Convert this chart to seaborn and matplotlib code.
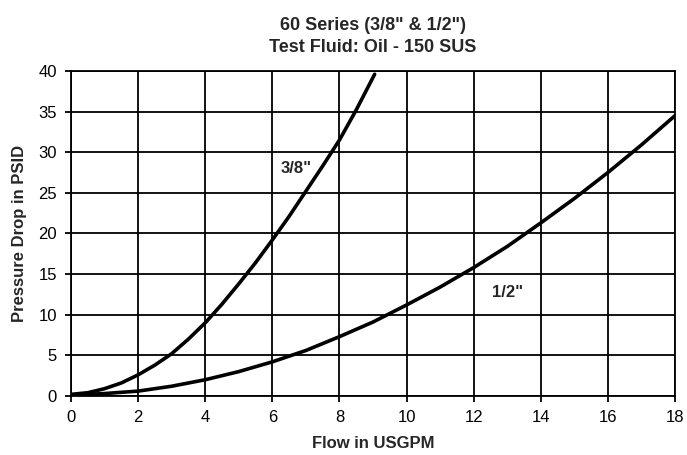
import numpy as np
import matplotlib
matplotlib.use("Agg")
import matplotlib.pyplot as plt
import seaborn as sns
import pandas as pd

# 読み取った値 (Flow USGPM, Pressure Drop PSID)
flow_38 = [0, 0.5, 1, 1.5, 2, 2.5, 3, 3.5, 4, 4.5, 5, 5.5, 6, 6.5, 7, 7.5, 8, 8.5, 9.05]
psid_38 = [0.2, 0.4, 0.9, 1.6, 2.6, 3.8, 5.2, 7.0, 9.0, 11.3, 13.8, 16.4, 19.2, 22.1, 25.2, 28.3, 31.5, 35.2, 39.6]
flow_12 = [0, 1, 2, 3, 4, 5, 6, 7, 8, 9, 10, 11, 12, 13, 14, 15, 16, 17, 18]
psid_12 = [0.1, 0.3, 0.6, 1.2, 2.0, 3.0, 4.2, 5.6, 7.3, 9.1, 11.2, 13.4, 15.8, 18.4, 21.3, 24.3, 27.5, 30.9, 34.5]

x_ticks = list(range(0, 19, 2))
y_ticks = list(range(0, 41, 5))

df = pd.concat([
    pd.DataFrame({"flow": flow_38, "psid": psid_38, "size": '3/8"'}),
    pd.DataFrame({"flow": flow_12, "psid": psid_12, "size": '1/2"'}),
])

sns.set_style("white")
plt.rcParams["font.family"] = ["Liberation Sans", "DejaVu Sans"]

fig = plt.figure(figsize=(6.87, 4.55), dpi=100)
ax = fig.add_axes([0.1033, 0.1297, 0.8792, 0.7143])

sns.lineplot(data=df, x="flow", y="psid", units="size", estimator=None,
             color="black", linewidth=2.6, sort=False, ax=ax, legend=False)

ax.set_xlim(0, 18)
ax.set_ylim(0, 40)
ax.set_xticks(x_ticks)
ax.set_yticks(y_ticks)
ax.grid(True, color="black", linewidth=1.3)
ax.set_axisbelow(True)
for s in ax.spines.values():
    s.set_color("black")
    s.set_linewidth(1.3)
ax.tick_params(axis="both", direction="out", length=4, width=1.3, color="black",
               labelsize=12, colors="black", pad=6)
ax.tick_params(axis="both", bottom=True, left=True)

ax.text(6.7, 28.0, '3/8"', fontsize=12, fontweight="bold", ha="center", va="center")
ax.text(13.0, 12.7, '1/2"', fontsize=12, fontweight="bold", ha="center", va="center")

ax.set_xlabel("Flow in USGPM", fontsize=12, fontweight="bold", labelpad=8)
ax.set_ylabel("Pressure Drop in PSID", fontsize=12, fontweight="bold", labelpad=8)
ax.set_title('60 Series (3/8" & 1/2")\nTest Fluid: Oil - 150 SUS', fontsize=13,
             fontweight="bold", pad=14, linespacing=1.35)

fig.savefig("out.png", dpi=100)
